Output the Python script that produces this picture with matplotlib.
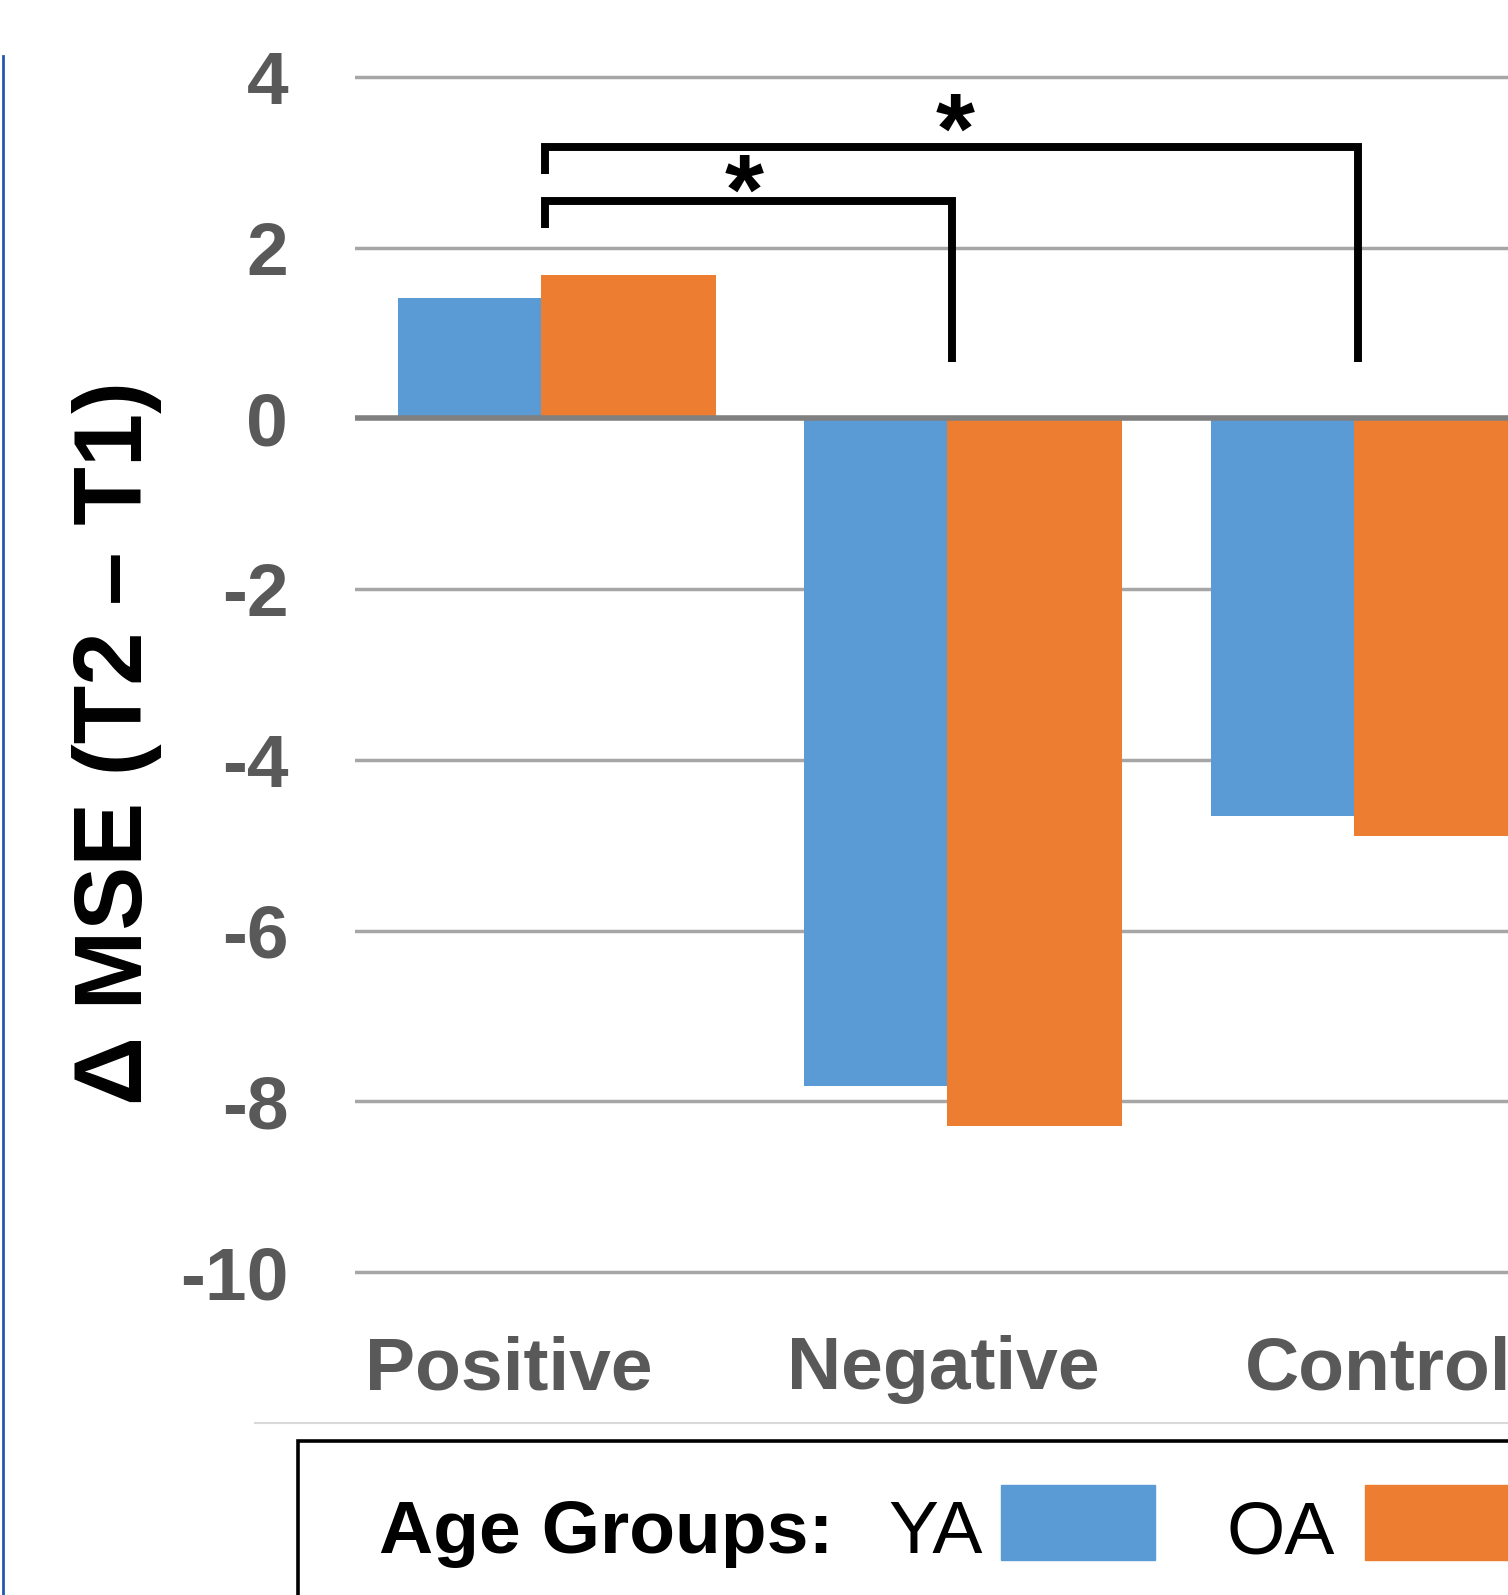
import matplotlib
matplotlib.use("Agg")
import matplotlib.pyplot as plt
import matplotlib.transforms as mtransforms
from matplotlib.patches import Rectangle
from matplotlib.lines import Line2D

plt.rcParams['font.family'] = ['Liberation Sans', 'DejaVu Sans']

# data
categories = ["Positive", "Negative", "Control"]
ya = [1.41, -7.82, -4.66]
oa = [1.68, -8.29, -4.89]
yticks = [4, 2, 0, -2, -4, -6, -8, -10]
ytick_labels = ["4", "2", "0", "-2", "-4", "-6", "-8", "-10"]
# significance brackets: (from category, to category, height, left arm bottom)
brackets = [(0, 1, 2.545, 2.23), (0, 2, 3.18, 2.86)]
star_x = [0.50, 1.02]
star_y = [2.28, 3.0]

blue = "#5B9BD5"
orange = "#ED7D31"
W, H = 1508, 1595

fig = plt.figure(figsize=(W / 100, H / 100), dpi=100)
ax = fig.add_axes([355 / W, 1 - 1300 / H, (W - 355) / W, (1300 - 40) / H])

x = list(range(len(categories)))
ax.bar(x, ya, width=-0.352, align='edge', color=blue, zorder=2)
ax.bar(x, oa, width=0.43, align='edge', color=orange, zorder=2)

for v in yticks:
    if v == 0:
        ax.axhline(v, color="#808080", lw=4, zorder=3)
    else:
        ax.axhline(v, color="#A6A6A6", lw=2.5, zorder=1)

ax.set_xlim(-0.4576, 2.379)
ax.set_ylim(-10.328, 4.433)
ax.set_yticks(yticks)
ax.set_yticklabels(ytick_labels, fontsize=54, fontweight='bold', color="#595959")
ax.tick_params(axis='y', length=0, pad=48)
ax.set_xticks([])
for s in ax.spines.values():
    s.set_visible(False)

# category labels
trans = mtransforms.blended_transform_factory(ax.transData, fig.transFigure)
label_pos = [-0.08, 0.99, 2.06]
for p, c in zip(label_pos, categories):
    ax.text(p, 1 - 1389 / H, c, transform=trans, ha='center', va='baseline',
            fontsize=54, fontweight='bold', color="#595959", clip_on=False)

# significance brackets
for (a, b, h, lb), sx, sy in zip(brackets, star_x, star_y):
    ax.plot([a + 0.01, a + 0.01, b + 0.01, b + 0.01], [lb, h, h, 0.66],
            color='black', lw=5.7, solid_joinstyle='miter', solid_capstyle='butt',
            zorder=4, clip_on=False)
    ax.text(sx, sy, "*", ha='center', va='baseline', fontsize=72,
            fontweight='bold', color='black', zorder=5)

# y label
fig.text(142 / W, 1 - 743 / H, "Δ MSE (T2 – T1)", rotation=90, rotation_mode='anchor',
         ha='center', va='baseline', fontsize=69, fontweight='bold', color='black')

# legend area
fig.add_artist(Line2D([255 / W, 1], [1 - 1423 / H, 1 - 1423 / H], color="#D9D9D9", lw=1.5))
fig.add_artist(Rectangle((298 / W, -0.1), 1.0, 0.1 + (H - 1441) / H, fill=False,
                         edgecolor='black', lw=2.6, transform=fig.transFigure))
fig.text(379 / W, 1 - 1553 / H, "Age Groups:", fontsize=54, fontweight='bold',
         ha='left', va='baseline', color='black')
fig.text(888 / W, 1 - 1553 / H, "YA", fontsize=54, ha='left', va='baseline', color='black')
fig.add_artist(Rectangle((1001 / W, 1 - 1560 / H), 154 / W, 75 / H, color=blue,
                         transform=fig.transFigure))
fig.text(1226 / W, 1 - 1553 / H, "OA", fontsize=54, ha='left', va='baseline', color='black')
fig.add_artist(Rectangle((1365 / W, 1 - 1560 / H), 154 / W, 75 / H, color=orange,
                         transform=fig.transFigure))

# left border line
fig.add_artist(Line2D([3 / W, 3 / W], [0, 1 - 56 / H], color="#2358B0", lw=2))

fig.savefig("out.png", dpi=100)
